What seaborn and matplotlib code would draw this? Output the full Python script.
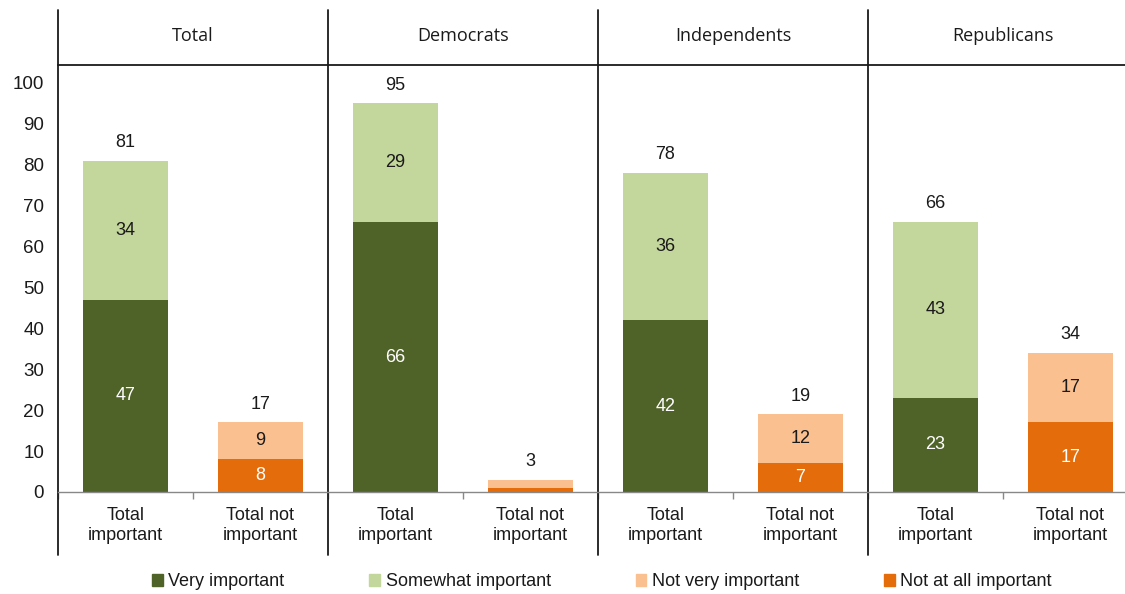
import numpy as np
import pandas as pd
import seaborn as sns
import matplotlib.pyplot as plt
from matplotlib.patches import Patch
from matplotlib.lines import Line2D
from matplotlib.transforms import blended_transform_factory

# data
groups = ["Total", "Democrats", "Independents", "Republicans"]
bar_names = ["Total\nimportant", "Total not\nimportant"]
very_imp = [47, 66, 42, 23]
somewhat_imp = [34, 29, 36, 43]
not_at_all = [8, 1, 7, 17]
not_very = [9, 2, 12, 17]
tot_imp = [81, 95, 78, 66]
tot_not = [17, 3, 19, 34]

legend_names = ["Very important", "Somewhat important", "Not very important", "Not at all important"]
c_dark_green = "#4f6228"
c_light_green = "#c3d69b"
c_light_orange = "#fac090"
c_orange = "#e46c0a"

rows = []
for i, g in enumerate(groups):
    rows.append(dict(pos=2 * i, kind="imp", bottom=very_imp[i], top=somewhat_imp[i], total=tot_imp[i]))
    rows.append(dict(pos=2 * i + 1, kind="not", bottom=not_at_all[i], top=not_very[i], total=tot_not[i]))
df = pd.DataFrame(rows)

sns.set_style("white")
plt.rcParams['font.family'] = ['Liberation Sans', 'DejaVu Sans']

fig = plt.figure(figsize=(11.25, 5.94), dpi=100)
ax = fig.add_axes([58 / 1125, 1 - 492 / 594, 1080 / 1125, (492 - 65) / 594])

# stacked bars: full height in the light colour, then the lower segment on top
sns.barplot(data=df, x="pos", y="total", hue="kind", dodge=False, width=0.63,
            palette={"imp": c_light_green, "not": c_light_orange}, saturation=1,
            legend=False, linewidth=0, ax=ax)
sns.barplot(data=df, x="pos", y="bottom", hue="kind", dodge=False, width=0.63,
            palette={"imp": c_dark_green, "not": c_orange}, saturation=1,
            legend=False, linewidth=0, ax=ax)

for _, r in df.iterrows():
    if r["bottom"] >= 5:
        ax.text(r["pos"], r["bottom"] / 2, str(r["bottom"]), ha="center", va="center",
                color="white", fontsize=13)
    if r["top"] >= 5:
        ax.text(r["pos"], r["bottom"] + r["top"] / 2, str(r["top"]), ha="center", va="center",
                color="#1a1a1a", fontsize=13)
    ax.annotate(str(r["total"]), (r["pos"], r["total"]), xytext=(0, 7), textcoords="offset points",
                ha="center", va="bottom", fontsize=13, color="#1a1a1a")

ax.set_xlim(-0.5, 7.5)
ax.set_ylim(0, 104.4)
ax.set_yticks(range(0, 101, 10))
ax.set_xticks(range(8))
ax.set_xticklabels(bar_names * 4)
ax.set_xticks(np.arange(-0.5, 7.6, 1), minor=True)
ax.tick_params(axis="x", which="major", length=0, pad=11, labelsize=13, colors="#1a1a1a")
ax.tick_params(axis="x", which="minor", length=5, width=1, color="#888888", direction="out", bottom=True)
ax.tick_params(axis="y", length=0, pad=10, labelsize=13.5, colors="#1a1a1a")
ax.set_xlabel("")
ax.set_ylabel("")

ax.spines["left"].set_visible(False)
ax.spines["right"].set_visible(False)
ax.spines["bottom"].set_color("#888888")
ax.spines["bottom"].set_linewidth(1)
ax.spines["top"].set_color("#1a1a1a")
ax.spines["top"].set_linewidth(1.3)

# panel dividers and group headers
trans = blended_transform_factory(ax.transData, fig.transFigure)
for xd in [-0.5, 1.5, 3.5, 5.5]:
    ln = Line2D([xd, xd], [1 - 10 / 594, 1 - 555 / 594], color="#1a1a1a", linewidth=1.3,
                transform=trans, clip_on=False)
    ax.add_line(ln)
for i, g in enumerate(groups):
    ax.text(2 * i + 0.5, 1 - 36 / 594, g, transform=trans, ha="center", va="center",
            fontsize=13, family=["Open Sans", "DejaVu Sans"], color="#1a1a1a")

handles = [Patch(color=c) for c in [c_dark_green, c_light_green, c_light_orange, c_orange]]
fig.legend(handles, legend_names, loc="center", bbox_to_anchor=(0.535, 1 - 582 / 594), ncol=4,
           frameon=False, handlelength=0.6, handleheight=0.6, handletextpad=0.3,
           columnspacing=4.7, fontsize=13, labelcolor="#1a1a1a")

fig.savefig("out.png", dpi=100)
